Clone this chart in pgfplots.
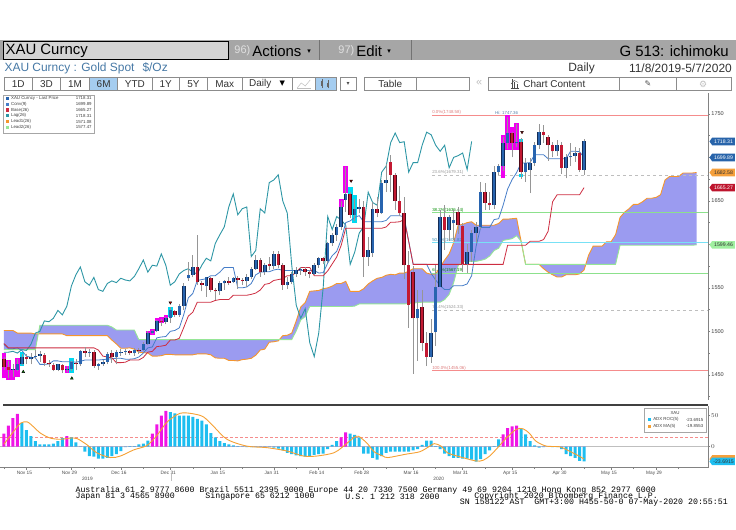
\documentclass[border=0pt]{standalone}
\usepackage{pgfplots}
\pgfplotsset{compat=1.18}
\usepackage{pgfplotstable}
\usetikzlibrary{shapes.symbols}
\usepackage{fontspec}
\setmainfont{Liberation Sans}
\newfontfamily\mono{Liberation Mono}
\newfontfamily\dejavu{DejaVu Sans}
\pgfplotsset{/pgf/number format/1000 sep={}}

\definecolor{upblue}{RGB}{40,100,175}
\definecolor{upedge}{RGB}{20,45,85}
\definecolor{dnred}{RGB}{195,25,50}
\definecolor{dnedge}{RGB}{80,10,25}
\definecolor{wick}{RGB}{150,150,150}
\definecolor{convc}{RGB}{70,125,200}
\definecolor{basec}{RGB}{205,45,65}
\definecolor{lagc}{RGB}{45,150,165}
\definecolor{lead1c}{RGB}{245,150,45}
\definecolor{lead2c}{RGB}{150,230,150}
\definecolor{cloud}{RGB}{155,155,240}
\definecolor{hlmag}{RGB}{240,0,240}
\definecolor{hlcyan}{RGB}{0,215,240}
\definecolor{barcyan}{RGB}{30,190,240}
\definecolor{barmag}{RGB}{240,20,230}
\definecolor{maorange}{RGB}{245,160,50}
\definecolor{fibred}{RGB}{245,140,140}
\definecolor{fibgray}{RGB}{190,190,190}
\definecolor{fibgreen}{RGB}{140,225,140}
\definecolor{fibcyan}{RGB}{120,225,245}
\definecolor{hdrgray}{RGB}{166,166,166}
\definecolor{boxgray}{RGB}{212,212,212}
\definecolor{subblue}{RGB}{70,120,165}
\definecolor{axisgray}{RGB}{130,130,130}
\definecolor{tagblue}{RGB}{40,100,170}
\definecolor{tagred}{RGB}{190,20,45}
\definecolor{tagorange}{RGB}{245,160,60}
\definecolor{taggreen}{RGB}{160,240,160}
\definecolor{btnblue}{RGB}{165,205,240}
\definecolor{hitext}{RGB}{90,130,170}

\pgfplotstableread{
i O H L C
0 1468 1470 1456 1459
1 1459 1466 1446 1456
2 1456 1462 1447 1457
3 1456 1468 1454 1463
4 1463 1474 1461 1471
5 1471 1474 1463 1468
6 1468 1475 1462 1471
7 1471 1478 1468 1472
8 1472 1477 1465 1474
9 1473 1475 1460 1464
10 1464 1467 1459 1462
11 1461 1464 1454 1456
12 1456 1463 1454 1462
13 1461 1463 1452 1455
14 1455 1460 1453 1457
15 1457 1466 1454 1465
16 1464 1468 1455 1463
17 1462 1479 1460 1477
18 1477 1482 1470 1475
19 1475 1480 1471 1476
20 1476 1479 1458 1460
21 1460 1464 1456 1462
22 1462 1467 1460 1465
23 1465 1476 1462 1474
24 1475 1479 1464 1470
25 1470 1478 1462 1476
26 1476 1480 1472 1476.5
27 1476 1480 1473 1477
28 1477 1478 1473 1475
29 1475 1481 1472 1479
30 1479 1481 1474 1478
31 1479 1488 1477 1485
32 1485 1500 1484 1498
33 1498 1502 1497 1500
34 1500 1513 1499 1512
35 1512 1514 1506 1511
36 1511 1516 1508 1515
37 1515 1528 1510 1524
38 1523 1525 1517 1519
39 1519 1531 1517 1529
40 1529 1555 1525 1552
41 1561 1580 1558 1565
42 1565 1588 1562 1574
43 1574 1611 1553 1557
44 1556 1558 1546 1553
45 1552 1563 1540 1562
46 1561 1563 1545 1548
47 1548 1550 1536 1546
48 1546 1558 1542 1555
49 1555 1559 1548 1558
50 1558 1563 1553 1556
51 1557 1562 1555 1561
52 1561 1564 1549 1559
53 1559 1561 1553 1558
54 1558 1566 1551 1563
55 1563 1574 1560 1572
56 1572 1588 1571 1582
57 1582 1584 1563 1568
58 1568 1578 1565 1576
59 1577 1585 1570 1575
60 1575 1592 1572 1589
61 1589 1592 1573 1576
62 1576 1578 1548 1553
63 1553 1563 1549 1557
64 1557 1568 1554 1566
65 1566 1574 1563 1570
66 1570 1574 1565 1572
67 1572 1574 1564 1568
68 1568 1570 1561 1566
69 1566 1578 1565 1576
70 1576 1586 1573 1584
71 1584 1586 1577 1581
72 1581 1603 1578 1601
73 1601 1613 1598 1611
74 1611 1623 1604 1620
75 1620 1650 1616 1643
76 1651 1689 1637 1658
77 1658 1660 1630 1634
78 1634 1652 1627 1641
79 1641 1652 1636 1643
80 1643 1650 1563 1586
81 1586 1609 1575 1593
82 1590 1649 1586 1641
83 1641 1654 1631 1636
84 1636 1674 1635 1671
85 1671 1692 1660 1674
86 1695 1703 1660 1680
87 1680 1682 1640 1650
88 1650 1667 1633 1636
89 1636 1654 1560 1576
90 1576 1592 1504 1530
91 1568 1575 1451 1515
92 1515 1548 1466 1526
93 1528 1548 1477 1487
94 1487 1499 1460 1471
95 1471 1514 1464 1498
96 1499 1576 1483 1551
97 1551 1639 1551 1632
98 1632 1645 1594 1617
99 1617 1634 1604 1632
100 1624 1640 1605 1628
101 1637 1643 1612 1622
102 1621 1624 1568 1577
103 1577 1600 1567 1591
104 1591 1617 1580 1613
105 1613 1626 1602 1620
106 1620 1672 1618 1660
107 1660 1671 1640 1648
108 1648 1660 1640 1645
109 1645 1690 1641 1683
110 1683 1692 1680 1690
111 1690 1723 1684 1717
112 1717 1747 1710 1728
113 1728 1729 1700 1717
114 1716 1738 1712 1718
115 1718 1722 1675 1683
116 1683 1699 1672 1694
117 1686 1699 1659 1694
118 1694 1718 1690 1714
119 1714 1738 1710 1729
120 1729 1737 1717 1726
121 1724 1726 1696 1714
122 1714 1718 1700 1707
123 1707 1720 1702 1714
124 1714 1718 1681 1688
125 1688 1704 1676 1700
126 1700 1716 1690 1702
127 1702 1712 1695 1705
128 1705 1711 1683 1686
129 1686 1721 1680 1718.31
}\candles

\pgfplotstableread{
i lo hi
0 1446 1475
1 1444 1467
2 1444 1457
3 1448 1469
14 1452 1460
32 1494 1500
33 1496 1503
34 1507 1515
35 1510 1517
36 1512 1519
75 1643 1652
76 1659 1690
111 1676 1726
112 1709 1749
113 1709 1735
114 1709 1740
}\hlmagtab

\pgfplotstableread{
i lo hi
4 1460 1476
15 1452 1469
37 1516 1528
77 1634 1666
78 1625 1657
115 1716 1721
115 1677 1681
}\hlcyantab

\pgfplotstableread{
i cy mg
0 0 21
1 0 34
2 0 46
3 0 53
4 38 0
5 27 0
6 17 0
7 9 0
8 4 0
9 4 0
10 4 0
11 5 0
12 9 0
13 14 0
14 0 17
15 15 0
16 7 0
17 0.5 0
18 -8 0
19 -15 0
20 -16 0
21 -19 0
22 -19 0
23 -18 0
24 -15 0
25 -12 0
26 -7 0
27 -0.5 0
28 1 0
29 1 0
30 4 0
31 5 0
32 10 0
33 0 21
34 0 36
35 0 50
36 0 58
37 56 0
38 54 0
39 50 0
40 50 0
41 50 0
42 48 0
43 45 0
44 42 0
45 36 0
46 22 0
47 15 0
48 9 0
49 6 0
50 4 0
51 2 0
52 1 0
53 0.5 0
54 -0.5 0
55 -0.5 0
56 -0.5 0
57 -0.5 0
58 -0.5 0
59 -0.5 0
60 -1.5 0
61 -3 0
62 -6 0
63 -10 0
64 -12 0
65 -14 0
66 -15 0
67 -16 0
68 -15 0
69 -13 0
70 -12 0
71 -11 0
72 -4 0
73 3 0
74 9 0
75 0 15
76 0 23
77 21 0
78 19 0
79 15 0
80 -11 0
81 -11 0
82 -18 0
83 -21 0
84 -15 0
85 -10 0
86 -8 0
87 -8 0
88 -8 0
89 -8 0
90 -8 0
91 -6 0
92 -4 0
93 3 0
94 10 0
95 10 0
96 1 0
97 -4 0
98 -11 0
99 -15 0
100 -18 0
101 -18 0
102 -19 0
103 -19 0
104 -21 0
105 -24 0
106 -20 0
107 -12 0
108 -6 0
109 1 0
110 12 0
111 0 20
112 0 30
113 0 33
114 0 34
115 29 0
116 20 0
117 9 0
118 2 0
119 -1.5 0
120 -0.5 0
121 0 0
122 -0.5 0
123 -0.5 0
124 -4 0
125 -12 0
126 -15 0
127 -18 0
128 -23 0
129 -23.69 0
}\adx

\tikzset{
  tag/.style={shape=signal, signal to=west, signal pointer angle=110, anchor=west,
    inner sep=0.6bp, minimum height=7.6bp, minimum width=25.5bp,
    font=\fontsize{5.2}{5.5}\selectfont, xshift=1.2bp},
  tb/.style={inner sep=0, font=\fontsize{10}{10}\selectfont, text=black!80},
  lg/.style={inner sep=0, anchor=west, font=\fontsize{4.4}{4.6}\selectfont, text=black!75},
  lgv/.style={inner sep=0, anchor=east, font=\fontsize{4.4}{4.6}\selectfont, text=black!75},
  fib/.style={inner sep=0, anchor=south west, font=\fontsize{4.4}{4.6}\selectfont, yshift=0.3bp}
}

\begin{document}
\begin{tikzpicture}
\begin{scope}[x=1bp,y=1bp]
\path (0,0) rectangle (736,530);

% ---------- header bar ----------
\fill[hdrgray] (0,470) rectangle (736,489.5);
\fill[boxgray] (3,471) rectangle (228.6,488.5);
\draw[black, line width=0.9bp] (3,471) rectangle (228.6,488.5);
\node[anchor=west, inner sep=0, font=\fontsize{15}{15}\selectfont] at (5,479.3) {XAU Curncy};
\draw[black!55, line width=0.8bp] (319,470) -- (319,489.5);
\draw[black!55, line width=0.8bp] (411,470) -- (411,489.5);
\node[anchor=west, inner sep=0, font=\fontsize{11}{11}\selectfont, text=black!12] at (234,479.3) {96)};
\node[anchor=west, inner sep=0, font=\fontsize{15}{15}\selectfont] at (252,479.3) {Actions};
\node[anchor=west, inner sep=0, font=\dejavu\fontsize{7}{7}\selectfont] at (307,478.3) {▾};
\node[anchor=west, inner sep=0, font=\fontsize{11}{11}\selectfont, text=black!12] at (338,479.3) {97)};
\node[anchor=west, inner sep=0, font=\fontsize{15}{15}\selectfont] at (356,479.3) {Edit};
\node[anchor=west, inner sep=0, font=\dejavu\fontsize{7}{7}\selectfont] at (387,478.3) {▾};
\node[anchor=east, inner sep=0, font=\fontsize{15}{15}\selectfont] at (729,479.3) {G 513: ichimoku};

% ---------- subtitle ----------
\node[anchor=west, inner sep=0, font=\fontsize{12}{12}\selectfont, text=subblue] at (4,462) {XAU Curncy : Gold Spot\hspace{8bp}\$/Oz};
\node[anchor=west, inner sep=0, font=\fontsize{12}{12}\selectfont, text=black!80] at (568,462) {Daily};
\node[anchor=east, inner sep=0, font=\fontsize{12}{12}\selectfont, text=black!80] at (732,462) {11/8/2019-5/7/2020};

% ---------- toolbar ----------
\foreach \a/\b in {3.8/31.9,31.9/60.1,60.1/89.2,117.4/151.6,151.6/179.3,179.3/207,207/241.8,241.8/292,292/315,340/356,363.8/416.4,416.4/469.4,488.2/619.6,619.6/676,676/731}
  \draw[black!45, line width=0.6bp, fill=white] (\a,439.5) rectangle (\b,453);
\draw[black!45, line width=0.6bp, fill=btnblue] (89.2,439.5) rectangle (117.4,453);
\draw[black!45, line width=0.6bp, fill=btnblue] (315,439.5) rectangle (336,453);
\node[tb] at (17.8,446.2) {1D};
\node[tb] at (46,446.2) {3D};
\node[tb] at (74.6,446.2) {1M};
\node[tb] at (103.3,446.2) {6M};
\node[tb] at (134.5,446.2) {YTD};
\node[tb] at (165.4,446.2) {1Y};
\node[tb] at (193.1,446.2) {5Y};
\node[tb] at (224.4,446.2) {Max};
\node[tb] at (260,446.2) {Daily};
\node[inner sep=0, font=\dejavu\fontsize{7}{7}\selectfont] at (282,446) {▼};
\draw[black!25, line width=0.5bp] (297,442) -- (301,447) -- (305,444) -- (310,450);
\draw[black!25, line width=0.4bp] (297,441.5) -- (311,441.5);
\draw[black!60, line width=0.5bp] (322,442) -- (322,451);
\fill[black!60] (321,444) rectangle (323,449);
\draw[black!60, line width=0.5bp] (328,441.5) -- (328,450);
\fill[black!60] (327,443) rectangle (329,447);
\node[inner sep=0, font=\dejavu\fontsize{6}{6}\selectfont, text=black!70] at (348,446) {▾};
\node[tb] at (390.1,446.2) {Table};
\node[inner sep=0, font=\fontsize{11}{11}\selectfont, text=black!25] at (479,446.5) {«};
\draw[black!70, line width=0.5bp] (512,441.5) -- (512,450.5) (514.5,441.5) -- (514.5,448) (517,441.5) -- (517,446) (510.5,441.5) -- (519,441.5);
\draw[black!70, line width=0.4bp] (511,446) -- (514,449.5) -- (518,447.5);
\node[tb, anchor=west] at (523,446.2) {Chart Content};
\node[inner sep=0, font=\dejavu\fontsize{8}{8}\selectfont, text=black!70] at (648,446) {✎};
\node[inner sep=0, font=\dejavu\fontsize{9}{9}\selectfont, text=black!25] at (703,446) {⚙};
\end{scope}

% ---------- main price panel ----------
\begin{axis}[
  at={(0bp,437bp)}, anchor=north west, scale only axis, width=708bp, height=307bp,
  xmin=-0.78, xmax=156.56, ymin=1421.3, ymax=1774.1,
  axis x line*=bottom, axis y line*=right,
  x axis line style={draw=none}, xtick=\empty,
  y axis line style={draw=axisgray, line width=0.6bp, -},
  ytick={1450,1500,1550,1600,1650,1700,1750},
  yticklabels={1450,1500,1550,,1650,,1750},
  minor ytick={1425,1475,1525,1575,1625,1675,1725},
  tick align=outside, major tick length=2.2bp, minor tick length=1.5bp,
  tick style={draw=axisgray, line width=0.6bp},
  yticklabel style={font=\fontsize{5.6}{6}\selectfont, text=black!75, inner sep=1bp},
  clip=false,
]
% cloud (between lead 1 and lead 2)
\addplot[fill=cloud, draw=none] coordinates {
(0,1501) (2,1501) (3,1498) (6,1498) (7,1497) (13,1497) (14,1495) (23,1495) (24,1490)
(25,1485.5) (26,1480.5) (27,1480.5) (28,1481) (29,1479.5) (30,1476) (31,1475.5) (32,1475)
(33,1471.5) (34,1471.5) (35,1472) (36,1473.5) (37,1473.5) (38,1473) (42,1473) (43,1474)
(45,1474) (46,1473) (47,1469.5) (48,1469) (49,1469) (50,1466.5) (51,1466.5) (52,1466)
(53,1467.5) (54,1468) (55,1469) (56,1472.5) (57,1478.5) (58,1479.5) (59,1487.5) (60,1488)
(61,1489) (62,1495) (63,1495.5) (64,1498) (65,1512) (66,1528) (67,1533) (68,1546)
(69,1546.5) (70,1547) (71,1549) (72,1550) (73,1552) (74,1555) (75,1555) (76,1557.5)
(77,1546) (79,1546) (80,1549) (81,1554.5) (82,1558) (83,1561) (84,1562) (85,1564.5)
(86,1565.5) (87,1565) (88,1567) (89,1567) (90,1569) (91,1572) (93,1572) (94,1567)
(95,1565.5) (96,1566) (97,1574) (98,1582) (99,1589) (100,1602) (101,1622) (102,1623)
(103,1625) (104,1626) (105,1622) (109,1622) (110,1624) (111,1629) (112,1629)
(113,1629.5) (114,1630) (115,1603.5) (116,1577) (119,1577) (120,1572) (121,1568)
(122,1565) (123,1562.5) (124,1562.5) (125,1565) (127,1565) (128,1566) (129,1570.5)
(130,1587.5) (131,1598) (133,1598) (134,1603) (135,1603) (136,1611) (137,1631)
(138,1637) (139,1641) (140,1646) (141,1646) (142,1649) (143,1653) (144,1653)
(145,1654) (146,1657) (147,1674) (148,1678) (150,1678) (151,1682) (153,1682) (154,1682.58)
(154,1599.46) (153,1599) (137,1599) (136,1577) (116,1577) (115,1603.5) (114,1610)
(113,1606.5) (112,1605.5) (111,1604.5) (110,1595.5) (109,1593) (108,1586.5) (107,1583)
(106,1581.5) (105,1580.5) (102,1580.5) (101,1575.5) (100,1556) (99,1542.5) (98,1536.5)
(97,1533.5) (93,1533.5) (92,1533) (91,1532.5) (90,1532) (89,1531.5) (79,1531.5) (78,1529)
(77,1528.5) (68,1528.5) (67,1517) (66,1513) (65,1500.5) (64,1490.5) (30,1490.5) (29,1501.5)
(25,1501.5) (24,1505) (23,1507) (8,1507) (7,1479) (0,1479)
} -- cycle;
% lead 1 and lead 2 lines
\addplot[lead1c, line width=0.9bp, mark=none] coordinates {
(0,1501) (2,1501) (3,1498) (6,1498) (7,1497) (13,1497) (14,1495) (23,1495) (24,1490)
(25,1485.5) (26,1480.5) (27,1480.5) (28,1481) (29,1479.5) (30,1476) (31,1475.5) (32,1475)
(33,1471.5) (34,1471.5) (35,1472) (36,1473.5) (37,1473.5) (38,1473) (42,1473) (43,1474)
(45,1474) (46,1473) (47,1469.5) (48,1469) (49,1469) (50,1466.5) (51,1466.5) (52,1466)
(53,1467.5) (54,1468) (55,1469) (56,1472.5) (57,1478.5) (58,1479.5) (59,1487.5) (60,1488)
(61,1489) (62,1495) (63,1495.5) (64,1498) (65,1512) (66,1528) (67,1533) (68,1546)
(69,1546.5) (70,1547) (71,1549) (72,1550) (73,1552) (74,1555) (75,1555) (76,1557.5)
(77,1546) (79,1546) (80,1549) (81,1554.5) (82,1558) (83,1561) (84,1562) (85,1564.5)
(86,1565.5) (87,1565) (88,1567) (89,1567) (90,1569) (91,1572) (93,1572) (94,1567)
(95,1565.5) (96,1566) (97,1574) (98,1582) (99,1589) (100,1602) (101,1622) (102,1623)
(103,1625) (104,1626) (105,1622) (109,1622) (110,1624) (111,1629) (112,1629)
(113,1629.5) (114,1630) (115,1603.5) (116,1577) (119,1577) (120,1572) (121,1568)
(122,1565) (123,1562.5) (124,1562.5) (125,1565) (127,1565) (128,1566) (129,1570.5)
(130,1587.5) (131,1598) (133,1598) (134,1603) (135,1603) (136,1611) (137,1631)
(138,1637) (139,1641) (140,1646) (141,1646) (142,1649) (143,1653) (144,1653)
(145,1654) (146,1657) (147,1674) (148,1678) (150,1678) (151,1682) (153,1682) (154,1682.58)
};
\addplot[lead2c, line width=0.9bp, mark=none] coordinates {
(0,1479) (7,1479) (8,1507) (23,1507) (24,1505) (25,1501.5) (29,1501.5) (30,1490.5)
(64,1490.5) (65,1500.5) (66,1513) (67,1517) (68,1528.5) (77,1528.5) (78,1529)
(79,1531.5) (89,1531.5) (90,1532) (91,1532.5) (92,1533) (93,1533.5) (97,1533.5)
(98,1536.5) (99,1542.5) (100,1556) (101,1575.5) (102,1580.5) (105,1580.5) (106,1581.5)
(107,1583) (108,1586.5) (109,1593) (110,1595.5) (111,1604.5) (112,1605.5) (113,1606.5)
(114,1610) (115,1603.5) (116,1577) (136,1577) (137,1599) (153,1599) (154,1599.46)
};

% fibonacci retracement
\addplot[fibred, line width=0.7bp] coordinates {(95.2,1748.58) (156.56,1748.58)};
\addplot[fibgray, dashed, line width=0.6bp] coordinates {(95.2,1679.31) (156.56,1679.31)};
\addplot[fibgreen, line width=0.7bp] coordinates {(95.2,1636.44) (156.56,1636.44)};
\addplot[fibcyan, line width=0.7bp] coordinates {(95.2,1601.82) (156.56,1601.82)};
\addplot[fibgreen, line width=0.7bp] coordinates {(95.2,1567.19) (156.56,1567.19)};
\addplot[fibgray, dashed, line width=0.6bp] coordinates {(95.2,1524.33) (156.56,1524.33)};
\addplot[fibred, line width=0.7bp] coordinates {(95.2,1455.06) (156.56,1455.06)};
\node[fib, text=fibred!90!black] at (axis cs:95.2,1748.58) {0.0\%(1748.58)};
\node[fib, text=black!40] at (axis cs:95.2,1679.31) {23.6\%(1679.31)};
\node[fib, text=green!55!black] at (axis cs:95.2,1636.44) {38.2\%(1636.44)};
\node[fib, text=cyan!70!black] at (axis cs:95.2,1601.82) {50.0\%(1601.82)};
\node[fib, text=green!55!black] at (axis cs:95.2,1567.19) {61.8\%(1567.19)};
\node[fib, text=black!40] at (axis cs:95.2,1524.33) {76.4\%(1524.33)};
\node[fib, text=fibred!90!black] at (axis cs:95.2,1455.06) {100.0\%(1455.06)};
\node[fib, text=hitext] at (axis cs:109.2,1748.8) {Hi: 1747.36};

% highlight boxes
\addplot[draw=hlmag, line width=4.6bp, mark=none, quiver={u=0, v=\thisrow{hi}-\thisrow{lo}}, -] table[x=i, y=lo] {\hlmagtab};
\addplot[draw=hlcyan, line width=4.6bp, mark=none, quiver={u=0, v=\thisrow{hi}-\thisrow{lo}}, -] table[x=i, y=lo] {\hlcyantab};

% lag, conversion, base lines
\addplot[lagc, line width=0.9bp, mark=none] coordinates {
(0,1476) (1,1476) (2,1477) (3,1475) (4,1479) (5,1478) (6,1485) (7,1498) (8,1500) (9,1512)
(10,1511) (11,1515) (12,1524) (13,1519) (14,1529) (15,1552) (16,1565) (17,1574) (18,1557)
(19,1553) (20,1562) (21,1548) (22,1546) (23,1555) (24,1558) (25,1556) (26,1561) (27,1559)
(28,1558) (29,1563) (30,1572) (31,1582) (32,1568) (33,1576) (34,1575) (35,1589) (36,1576)
(37,1553) (38,1557) (39,1566) (40,1570) (41,1572) (42,1568) (43,1566) (44,1576) (45,1584)
(46,1581) (47,1601) (48,1611) (49,1620) (50,1643) (51,1658) (52,1634) (53,1641) (54,1643)
(55,1586) (56,1593) (57,1641) (58,1636) (59,1671) (60,1674) (61,1680) (62,1650) (63,1636)
(64,1576) (65,1530) (66,1515) (67,1526) (68,1487) (69,1471) (70,1498) (71,1551) (72,1632)
(73,1617) (74,1632) (75,1628) (76,1622) (77,1577) (78,1591) (79,1613) (80,1620) (81,1660)
(82,1648) (83,1645) (84,1683) (85,1690) (86,1717) (87,1728) (88,1717) (89,1718) (90,1683)
(91,1694) (92,1694) (93,1714) (94,1729) (95,1726) (96,1714) (97,1707) (98,1714) (99,1688)
(100,1700) (101,1702) (102,1705) (103,1686) (104,1718.31)
};
\addplot[convc, line width=0.8bp, mark=none] coordinates {
(0,1485) (1,1480) (2,1480) (3,1481) (4,1478) (5,1471.5) (6,1470) (7,1469.5) (8,1462) (9,1462)
(10,1462.5) (11,1466) (12,1466) (13,1465) (15,1465) (16,1464.5) (17,1465.5) (18,1467) (21,1467)
(22,1467.5) (23,1468) (24,1468.5) (25,1469) (26,1469) (27,1468) (28,1468) (29,1468.5) (30,1470.5)
(31,1475) (32,1481) (33,1482) (34,1492.5) (35,1493.5) (36,1494) (37,1500) (38,1501) (39,1504)
(40,1519.5) (41,1538.5) (42,1543.5) (43,1558.5) (44,1559.5) (45,1560.5) (46,1564) (47,1564)
(48,1568) (49,1573.5) (51,1573.5) (52,1550) (53,1550) (54,1551) (55,1555) (56,1565) (57,1568)
(58,1568.5) (59,1568.5) (60,1570.5) (61,1571.5) (62,1570) (69,1570) (70,1567) (71,1567.5)
(72,1578.5) (73,1587) (74,1592) (75,1605.5) (76,1625) (77,1627) (78,1631) (79,1633) (80,1626)
(84,1626) (85,1627.5) (86,1633) (88,1633) (89,1631.5) (90,1603.5) (91,1577) (94,1577)
(95,1566.5) (96,1559) (97,1552.5) (98,1548) (99,1548) (100,1552.5) (102,1552.5) (103,1554.5)
(104,1564) (105,1598) (106,1619.5) (108,1619.5) (109,1628.5) (110,1629.5) (111,1645)
(112,1663.5) (113,1674.5) (114,1682.5) (115,1693.5) (116,1693.5) (117,1694) (118,1703)
(120,1703) (121,1698.5) (125,1698.5) (126,1707) (127,1707) (128,1706.5) (129,1699.89)
};
\addplot[basec, line width=0.8bp, mark=none] coordinates {
(0,1486) (1,1481) (20,1481) (21,1478.5) (22,1471.5) (23,1470.5) (24,1469.5) (25,1464) (26,1464)
(27,1464.5) (28,1467) (30,1467) (31,1470) (32,1476) (33,1477) (34,1482.5) (35,1483) (36,1484)
(37,1490) (38,1490) (39,1492) (40,1504.5) (41,1517.5) (42,1522) (43,1533.5) (46,1533.5)
(47,1535.5) (48,1536.5) (50,1536.5) (51,1541.5) (54,1541.5) (55,1542.5) (56,1544) (57,1547.5)
(58,1554) (59,1555) (60,1558.5) (61,1559.5) (62,1560.5) (63,1564) (64,1564) (65,1568)
(66,1573.5) (68,1573.5) (69,1564) (71,1564) (72,1569.5) (73,1577.5) (74,1585.5) (75,1599)
(76,1618.5) (84,1618.5) (85,1620) (86,1625.5) (87,1625.5) (88,1626) (89,1628.5) (90,1603.5)
(91,1577) (111,1577) (112,1599) (116,1599) (117,1603.5) (119,1603.5) (120,1605.5) (121,1615)
(122,1649) (123,1657) (128,1657) (129,1665.27)
};

% candles: wicks and bodies (edge line under a narrower coloured line)
\addplot[draw=wick, line width=0.7bp, mark=none, quiver={u=0, v=\thisrow{H}-\thisrow{L}}, -] table[x=i, y=L] {\candles};
\addplot[draw=upedge, line width=3.5bp, mark=none, quiver={u=0, v={max(\thisrow{C}-\thisrow{O},0)}}, -] table[x=i, y=O] {\candles};
\addplot[draw=upblue, line width=2.4bp, mark=none, quiver={u=0, v={max(\thisrow{C}-\thisrow{O},0)}}, -] table[x=i, y=O] {\candles};
\addplot[draw=dnedge, line width=3.5bp, mark=none, quiver={u=0, v={max(\thisrow{O}-\thisrow{C},0)}}, -] table[x=i, y=C] {\candles};
\addplot[draw=dnred, line width=2.4bp, mark=none, quiver={u=0, v={max(\thisrow{O}-\thisrow{C},0)}}, -] table[x=i, y=C] {\candles};

% signal triangles
\addplot[only marks, mark=triangle*, mark size=1.6bp, mark options={rotate=180, fill=red!80!black, draw=none}] coordinates {(37,1533) (77.2,1673) (115.2,1729)};
\addplot[only marks, mark=triangle*, mark size=1.6bp, mark options={fill=green!55!black, draw=none}] coordinates {(4.3,1453.5) (15.1,1446)};

% right value tags
\node[tag, fill=tagblue, text=white] at (axis cs:156.56,1718.31) {1718.31};
\node[tag, fill=tagblue, text=white] at (axis cs:156.56,1699.89) {1699.89};
\node[tag, fill=tagorange, text=black!80] at (axis cs:156.56,1682.58) {1682.58};
\node[tag, fill=tagred, text=white] at (axis cs:156.56,1665.27) {1665.27};
\node[tag, fill=taggreen, text=black!80] at (axis cs:156.56,1599.46) {1599.46};
\end{axis}

% ---------- lower indicator panel ----------
\begin{axis}[
  at={(0bp,124bp)}, anchor=north west, scale only axis, width=708bp, height=62bp,
  xmin=-0.78, xmax=156.56, ymin=-33.9, ymax=66.1,
  axis x line*=bottom, axis y line*=right,
  axis line style={draw=axisgray, line width=0.6bp, -},
  ytick={0,50}, minor ytick={-25,25},
  xtick={5,15,26,37,48,60,70,80,91,102,113,124,135,145},
  xticklabels={Nov 15,Nov 29,Dec 16,Dec 31,Jan 15,Jan 31,Feb 14,Feb 28,Mar 16,Mar 31,Apr 15,Apr 30,May 15,May 29},
  minor xtick={0,10,20,31,42,53,65,75,85,96,107,118,129,140,150},
  tick align=outside, major tick length=2bp, minor tick length=1.3bp,
  tick style={draw=axisgray, line width=0.5bp},
  xticklabel style={font=\fontsize{4.8}{5}\selectfont, text=black!70, xshift=-2bp, inner sep=1.2bp},
  yticklabel style={font=\fontsize{5.6}{6}\selectfont, text=black!75, inner sep=1bp},
  clip=false,
]
\addplot[black!25, line width=0.5bp] coordinates {(-0.78,0) (156.56,0)};
\addplot[fibred, dash pattern=on 3bp off 2bp, line width=0.8bp] coordinates {(-0.78,15) (156.56,15)};
\addplot[ybar, bar width=3bp, bar shift=0pt, fill=barcyan, draw=none] table[x=i, y=cy] {\adx};
\addplot[ybar, bar width=3bp, bar shift=0pt, fill=barmag, draw=none] table[x=i, y=mg] {\adx};
\addplot[maorange, line width=0.9bp, smooth, tension=0.5, mark=none] coordinates {
(0,4) (2.2,25) (3.7,38) (5.2,40) (6.6,32) (8.1,22) (10.3,14) (12.6,12) (14.8,14) (16.3,13)
(18.5,3) (20.7,-10) (23.7,-17.5) (25.9,-15) (28.9,-5) (31.8,2) (34,18) (36.3,40) (39.2,54)
(42.2,53) (44.4,48) (46.6,33) (49.6,12) (54,1) (58.5,-1.5) (63,-7) (66.6,-15) (69.6,-15)
(73.3,-10) (75.1,-1.5) (77.7,14) (78.8,17) (80.7,6) (82.3,-8) (84.3,-15) (85.4,-17.5)
(89.4,-12) (92.5,-8) (94.7,1) (95.7,5) (97.2,1) (98.7,-10) (102,-17.5) (105,-23) (106.5,-22)
(108,-15) (109.8,-1.5) (111.7,14) (113.9,28) (115.4,29) (116.8,22) (118.3,9) (120.6,1)
(123.5,0) (125.7,-7) (127.6,-14) (129,-19.86)
};
\node[tag, fill=tagorange] at (axis cs:156.56,-19.86) {\phantom{-19.8553}};
\node[tag, fill=barcyan, text=black!80] at (axis cs:156.56,-23.69) {-23.6915};
\end{axis}

\begin{scope}[x=1bp,y=1bp]
% separator
\draw[black!75, line width=2bp] (3,125) -- (708,125);

% year labels
\node[inner sep=0, font=\fontsize{4.8}{5}\selectfont, text=black!70] at (87,51) {2019};
\node[inner sep=0, font=\fontsize{4.8}{5}\selectfont, text=black!70] at (438.5,51) {2020};
\draw[black!25, line width=1bp] (170.7,49) -- (170.7,55.5);

% ---------- main legend ----------
\draw[fill=white, draw=black!35, line width=0.5bp] (2.7,396.5) rectangle (94.3,434.5);
\foreach \yy/\cc/\tt/\vv in {431.5/upblue/{XAU Curncy - Last Price}/1718.31, 425.7/convc/Conv(9)/1699.89, 419.9/basec/Base(26)/1665.27, 414.1/lagc/Lag(26)/1718.31, 408.3/lead1c/Lead1(26)/1571.08, 402.5/lead2c/Lead2(26)/1577.47}{
  \fill[\cc] (6,\yy-1.6) rectangle (9,\yy+1.6);
  \node[lg] at (10.5,\yy) {\tt};
  \node[lgv] at (91.5,\yy) {\vv};
}

% ---------- lower legend ----------
\draw[fill=white, draw=black!35, line width=0.5bp] (644,98) rectangle (706,122);
\node[inner sep=0, font=\fontsize{4.4}{4.6}\selectfont, text=black!75] at (675,116.5) {XAU};
\fill[barcyan] (647.5,108.5) rectangle (651,111.5);
\node[lg] at (653,110) {ADX ROC(5)};
\node[lgv] at (703.5,110) {-23.6915};
\fill[maorange] (647.5,102) rectangle (651,105);
\node[lg] at (653,103.5) {ADX MA(5)};
\node[lgv] at (703.5,103.5) {-19.8553};

% ---------- footer ----------
\node[anchor=west, inner sep=0, font=\mono\fontsize{8.3}{8.3}\selectfont] at (75,39) {Australia 61 2 9777 8600 Brazil 5511 2395 9000 Europe 44 20 7330 7500 Germany 49 69 9204 1210 Hong Kong 852 2977 6000};
\node[anchor=west, inner sep=0, font=\mono\fontsize{8.3}{8.3}\selectfont] at (75,33) {Japan 81 3 4565 8900};
\node[anchor=west, inner sep=0, font=\mono\fontsize{8.3}{8.3}\selectfont] at (205,33) {Singapore 65 6212 1000};
\node[anchor=west, inner sep=0, font=\mono\fontsize{8.3}{8.3}\selectfont] at (345,33) {U.S. 1 212 318 2000};
\node[anchor=west, inner sep=0, font=\mono\fontsize{8.3}{8.3}\selectfont] at (474,33) {Copyright 2020 Bloomberg Finance L.P.};
\node[anchor=east, inner sep=0, font=\mono\fontsize{8.3}{8.3}\selectfont] at (728,26.7) {SN 158122 AST\ \ GMT+3:00 H455-50-0 07-May-2020 20:55:51};
\end{scope}
\end{tikzpicture}
\end{document}
